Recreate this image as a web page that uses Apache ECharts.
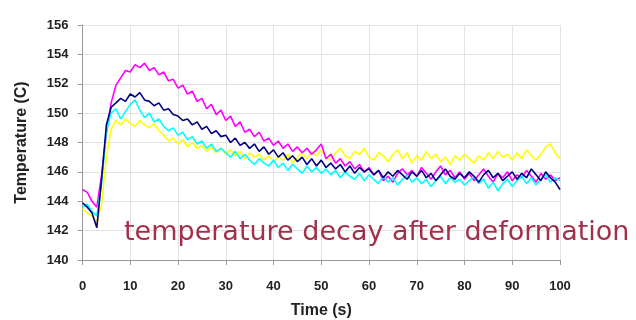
<!DOCTYPE html>
<html><head><meta charset="utf-8">
<script src="https://cdn.jsdelivr.net/npm/echarts@6/dist/echarts.min.js"></script>
<style>html,body{margin:0;padding:0;background:#fff}#c{width:636px;height:320px}</style>
</head><body><div id="c"></div>
<script>
const xTicks = [0,10,20,30,40,50,60,70,80,90,100];
const yTicks = [140,142,144,146,148,150,152,154,156];
const seriesNames = ['magenta','navy','cyan','yellow'];
const magenta = [144.8,144.6,144.0,143.6,145.8,148.6,150.7,151.9,152.4,152.9,
152.8,153.3,153.1,153.4,152.9,153.1,152.6,152.8,152.2,152.3,
151.7,151.9,151.3,151.5,150.8,151.0,150.3,150.6,149.9,150.2,
149.5,149.8,149.1,149.4,148.7,148.9,148.4,148.7,148.1,148.3,
147.8,148.1,147.6,147.9,147.4,147.7,147.3,147.6,147.2,147.5,
147.9,146.9,147.2,146.6,146.9,146.4,146.7,146.2,146.5,146.0,
146.3,145.8,146.1,145.4,145.7,145.3,145.9,146.2,145.8,146.1,
145.7,146.3,145.9,145.5,146.0,146.4,145.8,146.1,145.6,146.0,
145.5,145.9,145.4,145.8,146.2,145.7,145.3,145.9,145.6,146.0,
145.4,145.8,145.6,146.1,145.7,145.3,145.9,145.5,145.8,145.4,145.6];
const navy = [143.9,143.6,143.2,142.2,145.5,149.2,150.4,150.7,151.0,150.8,
151.3,151.1,151.4,150.9,150.8,150.5,150.7,150.2,150.3,149.9,
149.8,149.5,149.6,149.2,149.4,148.9,149.1,148.6,148.8,148.4,
148.5,148.0,148.3,147.8,148.0,147.6,147.9,147.4,147.7,147.2,
147.5,147.0,147.3,146.8,147.1,146.7,147.0,146.5,146.9,146.4,
146.8,146.3,146.6,146.2,146.5,146.0,146.4,145.9,146.3,146.0,
146.2,145.8,146.1,145.6,146.0,145.7,146.1,145.8,145.5,146.0,
145.7,146.1,145.6,145.9,145.4,145.8,146.2,145.7,145.5,145.9,
145.6,146.0,145.7,145.3,145.8,146.1,145.6,145.9,145.4,145.7,
146.0,145.5,145.9,145.6,146.2,145.8,145.4,146.0,145.6,145.3,144.8];
const cyan = [143.6,143.8,143.3,143.0,145.2,148.8,150.0,150.3,149.6,150.1,
150.6,150.9,150.2,149.7,150.0,149.4,149.6,149.1,148.8,149.0,
148.5,148.7,148.2,148.4,147.9,148.1,147.6,147.9,147.4,147.6,
147.3,147.0,147.4,146.9,147.2,146.8,146.5,146.9,146.6,146.4,
146.8,146.3,146.6,146.1,146.5,146.2,145.9,146.4,146.0,146.3,
145.9,146.2,145.8,146.1,145.6,146.0,145.7,145.5,145.9,145.4,
145.8,145.5,145.2,145.7,145.3,145.6,145.1,145.5,145.8,145.3,
145.6,145.2,145.5,145.0,145.4,145.7,145.2,145.6,145.3,145.5,
145.1,145.4,145.7,145.2,145.5,144.9,145.3,144.7,145.2,145.5,
145.0,145.4,145.7,145.2,145.6,145.1,145.5,145.8,145.3,145.6,145.4];
const yellow = [143.5,143.2,143.0,142.6,143.8,147.0,148.9,149.5,149.2,149.6,
149.3,149.1,149.5,149.2,149.0,149.3,148.8,148.5,148.1,148.3,
147.9,148.2,147.7,148.0,147.6,147.8,147.4,147.7,147.3,147.6,
147.2,147.5,147.1,147.4,146.9,147.3,147.0,147.2,146.8,147.1,
146.7,147.0,146.8,147.2,146.6,147.0,147.3,146.9,147.4,147.1,
147.5,147.0,146.8,147.3,147.6,147.1,146.9,147.4,147.2,147.6,
147.0,146.8,147.3,147.1,146.7,147.2,147.5,146.9,147.3,146.6,
147.1,146.8,147.4,146.9,147.2,146.7,147.0,146.5,147.1,146.8,
147.2,146.9,146.6,147.1,146.8,147.3,146.9,147.4,147.0,147.2,
146.8,147.3,146.9,147.5,147.1,146.8,147.2,147.7,147.9,147.3,146.9];
const annotation = 'temperature decay after deformation';

function pairs(arr){ return arr.map((v,i)=>[i, v]); }
const chart = echarts.init(document.getElementById('c'));
const lbl = {color:'#222', fontFamily:'Liberation Sans, Arial', fontWeight:'bold', fontSize:13};
const nameStyle = {color:'#222', fontFamily:'Liberation Sans, Arial', fontWeight:'bold', fontSize:16};
function mk(name, data, color){
  return {name, type:'line', data:pairs(data), showSymbol:false, symbol:'none',
    lineStyle:{color, width:1.6}, itemStyle:{color}, animation:false};
}
chart.setOption({
  animation:false,
  grid:{left:82.5, right:76, top:25, bottom:60, containLabel:false, outerBoundsMode:'none'},
  xAxis:{type:'value', min:0, max:100, interval:10,
    name:'Time (s)', nameLocation:'middle', nameGap:43, nameTextStyle:nameStyle,
    axisLine:{show:true, lineStyle:{color:'#999'}},
    axisTick:{show:true, length:5, lineStyle:{color:'#999'}},
    axisLabel:Object.assign({margin:20}, lbl),
    splitLine:{show:true, lineStyle:{color:'#e2e2e2'}}},
  yAxis:{type:'value', min:140, max:156, interval:2,
    name:'Temperature (C)', nameLocation:'middle', nameGap:53, nameRotate:90, nameTextStyle:nameStyle,
    axisLine:{show:true, lineStyle:{color:'#999'}},
    axisTick:{show:true, length:5, lineStyle:{color:'#999'}},
    axisLabel:Object.assign({margin:14}, lbl),
    splitLine:{show:true, lineStyle:{color:'#e2e2e2'}}},
  series:[
    mk(seriesNames[3], yellow, '#ffff00'),
    mk(seriesNames[0], magenta, '#ff00ff'),
    mk(seriesNames[2], cyan, '#00ffff'),
    mk(seriesNames[1], navy, '#000080')
  ],
  graphic:[{type:'text', x:124, y:233, z:100,
    style:{text:annotation, fill:'#a3304a', font:'27px "DejaVu Sans"', verticalAlign:'middle', align:'left'}}]
});
</script></body></html>
